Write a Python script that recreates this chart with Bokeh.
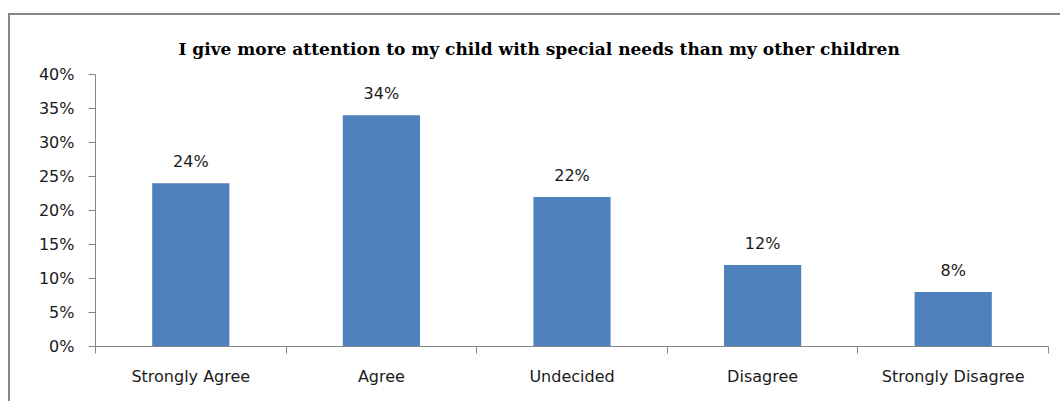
from bokeh.plotting import figure
from bokeh.models import FixedTicker, NumeralTickFormatter, Range1d, ColumnDataSource, LabelSet
from bokeh.core.properties import value
from bokeh.embed import file_html
from bokeh.resources import INLINE

categories = ["Strongly Agree", "Agree", "Undecided", "Disagree", "Strongly Disagree"]
values = [0.24, 0.34, 0.22, 0.12, 0.08]
value_labels = ["24%", "34%", "22%", "12%", "8%"]
y_ticks = [0, 0.05, 0.10, 0.15, 0.20, 0.25, 0.30, 0.35, 0.40]
title_text = "I give more attention to my child with special needs than my other children"

xs = [i + 0.5 for i in range(len(categories))]
src = ColumnDataSource(dict(x=xs, top=values, lab=value_labels))

FONT = "DejaVu Sans"
TXT = "#1a1a1a"

p = figure(width=1050, height=386, output_backend="svg", toolbar_location=None,
           x_range=Range1d(0, len(categories)), y_range=Range1d(0, 0.40),
           min_border_left=85, min_border_right=12, min_border_top=59, min_border_bottom=55)
p.margin = (15, 0, 0, 10)
p.styles = {"outline": "2px solid #878787", "outline-offset": "0px"}

p.title.text = title_text
p.title.align = "left"
p.title.vertical_align = "middle"
p.title.text_font = "DejaVu Serif"
p.title.text_font_style = "bold"
p.title.text_font_size = "17px"
p.title.text_color = "#000000"
p.title.standoff = 29
p.title.offset = 83

p.vbar(x="x", top="top", width=0.405, source=src, color="#4F81BD", line_color=None)

labels = LabelSet(x="x", y="top", text="lab", source=src, text_align="center",
                  y_offset=12, text_font=value(FONT), text_font_size="16px", text_color=TXT)
p.add_layout(labels)

p.xgrid.visible = False
p.ygrid.visible = False
p.outline_line_color = None
p.background_fill_color = "white"
p.border_fill_color = "white"

xa = p.xaxis[0]
xa.ticker = FixedTicker(ticks=xs, minor_ticks=list(range(len(categories) + 1)))
xa.major_label_overrides = {x: c for x, c in zip(xs, categories)}
xa.major_tick_in = 0
xa.major_tick_out = 0
xa.minor_tick_in = 0
xa.minor_tick_out = 7
xa.minor_tick_line_color = "#868686"
xa.axis_line_color = "#868686"
xa.major_label_standoff = 13
xa.major_label_text_font = FONT
xa.major_label_text_font_size = "16px"
xa.major_label_text_color = TXT

ya = p.yaxis[0]
ya.ticker = FixedTicker(ticks=y_ticks)
ya.formatter = NumeralTickFormatter(format="0%")
ya.major_tick_in = 0
ya.major_tick_out = 7
ya.minor_tick_line_color = None
ya.major_tick_line_color = "#868686"
ya.axis_line_color = "#868686"
ya.major_label_standoff = 14
ya.major_label_text_font = FONT
ya.major_label_text_font_size = "16px"
ya.major_label_text_color = TXT

open("out.html", "w").write(file_html(p, INLINE))
